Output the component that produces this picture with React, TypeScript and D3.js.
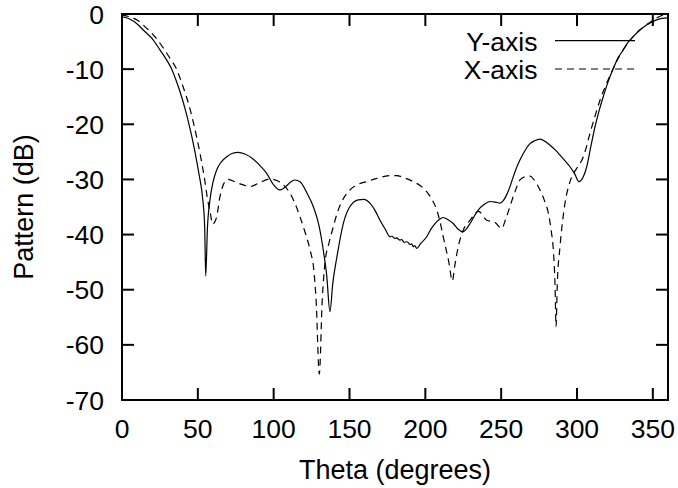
import React from "react";
import * as d3 from "d3";

const yAxisTheta = [0, 5, 10, 14, 20, 25, 30, 32.8, 36, 39.3, 41.5, 43.3, 46, 48.1, 50, 51, 53.2, 54.5, 55.2, 56.3, 58, 60, 62.4, 65.5, 69, 72.5, 76.7, 81, 86, 91, 95.4, 100, 104, 108, 111, 114, 117.4, 122, 126.1, 130, 132.7, 135, 137.1, 139, 141.6, 145.9, 150.3, 155.8, 159.5, 163.5, 167, 170.1, 173.5, 176.7, 178, 180, 181, 183.3, 184.5, 186, 188, 189.9, 191, 192, 193, 194.3, 197, 200.9, 203.5, 206.4, 209, 211.8, 215, 218.4, 221.5, 224.6, 227, 229.5, 232, 235, 238.5, 242.6, 246, 249.2, 251.5, 253.6, 255.8, 258, 261, 264.6, 269, 272, 275.6, 279, 282.2, 285.5, 288.8, 292, 295.4, 298.5, 301.3, 304, 306.4, 309, 311.9, 314.5, 317.3, 320.5, 323.9, 327, 330.5, 333.5, 337.1, 341, 345.9, 352, 356, 360];
const yAxisDb = [-0.5, -0.9, -1.8, -2.9, -4.5, -6.5, -8.6, -10, -12.3, -15, -17.1, -19, -22.2, -25, -27.8, -29.4, -33.5, -38.5, -47.5, -39, -33.7, -30.5, -28.3, -26.8, -25.9, -25.3, -25.1, -25.4, -26.2, -27.5, -28.9, -31, -31.9, -31.3, -30.5, -30.1, -30.4, -32.5, -34.9, -38.5, -42.8, -47.5, -54, -48.8, -44.2, -38, -34.9, -33.7, -33.6, -34.3, -35.7, -37.4, -39, -40.4, -40.3, -40.7, -40.6, -41, -40.9, -41.4, -41.3, -41.8, -41.7, -42.2, -42, -42.5, -41.6, -40.4, -39.1, -38, -37.3, -36.9, -37.3, -38, -39, -39.5, -39, -38, -36.8, -35.5, -34.6, -34, -34.1, -34.3, -33.8, -32.8, -31.3, -29.5, -27.3, -25.3, -23.5, -23, -22.7, -23.1, -23.8, -24.6, -25.6, -26.6, -27.7, -29, -30.4, -29.6, -27.7, -24.2, -20.4, -17.6, -15, -12.3, -9.9, -8, -6.5, -5.2, -4.1, -3, -2, -1.1, -0.8, -0.7];

const xAxisTheta = [0, 5, 10, 16.3, 22, 27.3, 32, 36, 39.5, 42.6, 45, 47, 49.3, 51.4, 53, 54.3, 56.3, 58.5, 59.6, 61, 62.4, 64.6, 67.9, 70, 75, 80, 84.4, 90, 97.6, 102, 106, 110.8, 114, 117, 120.5, 124, 126.5, 128, 130.1, 132, 133.8, 136.5, 139.3, 142, 145, 150.3, 155.5, 161.3, 167, 172.3, 177, 181.1, 186, 192, 196.5, 200.9, 204.5, 207.5, 209.8, 211.8, 215.5, 217.8, 219.5, 221.7, 225, 229.5, 235, 240.5, 246, 250.3, 253, 255.8, 259, 262.4, 266, 269, 272.5, 275.6, 278.5, 281.1, 283, 284.4, 285.5, 286.2, 287, 288.8, 292.1, 295.4, 299.8, 302, 304.2, 306.5, 308.6, 312, 315.2, 319.5, 323.9, 328, 332.7, 337, 341.5, 346, 350.3, 354, 356.9, 360];
const xAxisDb = [-0.2, -0.5, -1.1, -2.6, -4.2, -6.2, -8.2, -10, -12.6, -15.1, -17.4, -19.6, -22.4, -25.2, -27.6, -29.7, -33.4, -36.5, -38.1, -37.8, -36.8, -33.1, -30.4, -30, -30.5, -31, -31.3, -30.7, -29.9, -30.2, -30.9, -32.5, -34.3, -36.5, -39.4, -42.8, -46.5, -52, -65.3, -52, -45.2, -41.5, -38.6, -36, -34, -31.9, -30.9, -30.4, -29.9, -29.5, -29.3, -29.3, -29.7, -30.4, -31.1, -32.2, -33.7, -35.5, -37.8, -40.4, -45, -48.4, -45.5, -42.2, -39.2, -37.4, -35.8, -37.4, -37.8, -38.9, -37.2, -34.9, -32.3, -30.1, -29.5, -29.4, -30.4, -31.9, -33.8, -36.1, -39.3, -42.8, -49, -56.7, -49, -42.2, -34.3, -30.4, -28, -27.1, -25.9, -23.8, -21.6, -18.4, -15.6, -12.6, -9.9, -7.6, -5.6, -4.1, -2.9, -1.9, -1.1, -0.5, -0.2, -0.1];

const xTicks = [0, 50, 100, 150, 200, 250, 300, 350];
const yTicks = [0, -10, -20, -30, -40, -50, -60, -70];
const seriesNames = ["Y-axis", "X-axis"];

const W = 678;
const H = 488;
const L = 122, R = 668, T = 14, B = 400;
const FONT = "'Liberation Sans', Arial, Helvetica, sans-serif";

export default function App() {
  const x = d3.scaleLinear().domain([0, 360]).range([L, R]);
  const y = d3.scaleLinear().domain([-70, 0]).range([B, T]);
  const line = d3
    .line<[number, number]>()
    .x((d) => x(d[0]))
    .y((d) => y(d[1]))
    .curve(d3.curveMonotoneX);
  const solid = line(yAxisTheta.map((t, i) => [t, yAxisDb[i]] as [number, number])) || "";
  const dashed = line(xAxisTheta.map((t, i) => [t, xAxisDb[i]] as [number, number])) || "";
  const tl = 12;
  const fs = 26.5;

  return (
    <svg
      width={W}
      height={H}
      style={{ position: "absolute", left: 0, top: 0, background: "#fff" }}
      fontFamily={FONT}
    >
      <rect x={0} y={0} width={W} height={H} fill="#fff" />
      <path d={solid} fill="none" stroke="#000" strokeWidth={1.2} />
      <path d={dashed} fill="none" stroke="#000" strokeWidth={1.2} strokeDasharray="7,5" />
      {xTicks.map((t) => (
        <g key={"xt" + t}>
          <line x1={x(t)} x2={x(t)} y1={B} y2={B - tl} stroke="#000" strokeWidth={2} />
          <line x1={x(t)} x2={x(t)} y1={T} y2={T + tl} stroke="#000" strokeWidth={2} />
          <text x={x(t)} y={438} fontSize={fs} textAnchor="middle" fill="#000">
            {t}
          </text>
        </g>
      ))}
      {yTicks.map((t) => (
        <g key={"yt" + t}>
          <line x1={L} x2={L + tl} y1={y(t)} y2={y(t)} stroke="#000" strokeWidth={2} />
          <line x1={R} x2={R - tl} y1={y(t)} y2={y(t)} stroke="#000" strokeWidth={2} />
          <text x={104} y={y(t) + 9.5} fontSize={fs} textAnchor="end" fill="#000">
            {t}
          </text>
        </g>
      ))}
      <rect x={L} y={T} width={R - L} height={B - T} fill="none" stroke="#000" strokeWidth={2} />
      <text x={(L + R) / 2} y={479} fontSize={27} textAnchor="middle" fill="#000">
        Theta (degrees)
      </text>
      <text
        transform={`translate(33, ${(T + B) / 2}) rotate(-90)`}
        fontSize={27}
        textAnchor="middle"
        fill="#000"
      >
        Pattern (dB)
      </text>
      <text x={537.5} y={50.5} fontSize={fs} textAnchor="end" fill="#000">
        {seriesNames[0]}
      </text>
      <line x1={555} x2={635} y1={40.7} y2={40.7} stroke="#000" strokeWidth={1.2} />
      <text x={537.5} y={78.5} fontSize={fs} textAnchor="end" fill="#000">
        {seriesNames[1]}
      </text>
      <line x1={555} x2={635} y1={69} y2={69} stroke="#000" strokeWidth={1.2} strokeDasharray="7,5" />
    </svg>
  );
}
